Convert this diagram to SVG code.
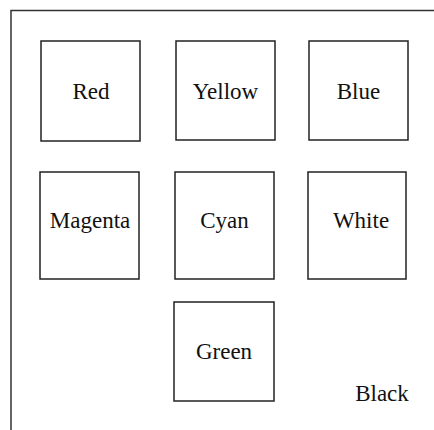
<svg xmlns="http://www.w3.org/2000/svg" width="434" height="430" viewBox="0 0 434 430">
<style>
.box{fill:none;stroke:#222;stroke-width:1.5}
.lbl{font-family:"Liberation Serif",serif;font-size:23px;fill:#111;text-anchor:middle}
.frame{fill:none;stroke:#333;stroke-width:1.5}
</style>
<rect width="434" height="430" fill="#fff"/>
<g id="frame"><path class="frame" d="M11,430 V10.5 H434"/></g>
<g id="red"><rect class="box" x="41" y="41" width="99" height="100"/><text class="lbl" x="91" y="99">Red</text></g>
<g id="yellow"><rect class="box" x="176" y="41" width="99" height="99"/><text class="lbl" x="225.5" y="99">Yellow</text></g>
<g id="blue"><rect class="box" x="309" y="41" width="99" height="99"/><text class="lbl" x="358.5" y="99">Blue</text></g>
<g id="magenta"><rect class="box" x="40" y="172" width="99" height="107"/><text class="lbl" x="90" y="228">Magenta</text></g>
<g id="cyan"><rect class="box" x="175" y="172" width="99" height="107"/><text class="lbl" x="224.5" y="228">Cyan</text></g>
<g id="white"><rect class="box" x="308" y="172" width="98" height="107"/><text class="lbl" x="361" y="228">White</text></g>
<g id="green"><rect class="box" x="174" y="302" width="100" height="99"/><text class="lbl" x="224" y="359">Green</text></g>
<g id="black"><text class="lbl" x="382" y="401">Black</text></g>
<g id="connectors"></g>
</svg>
